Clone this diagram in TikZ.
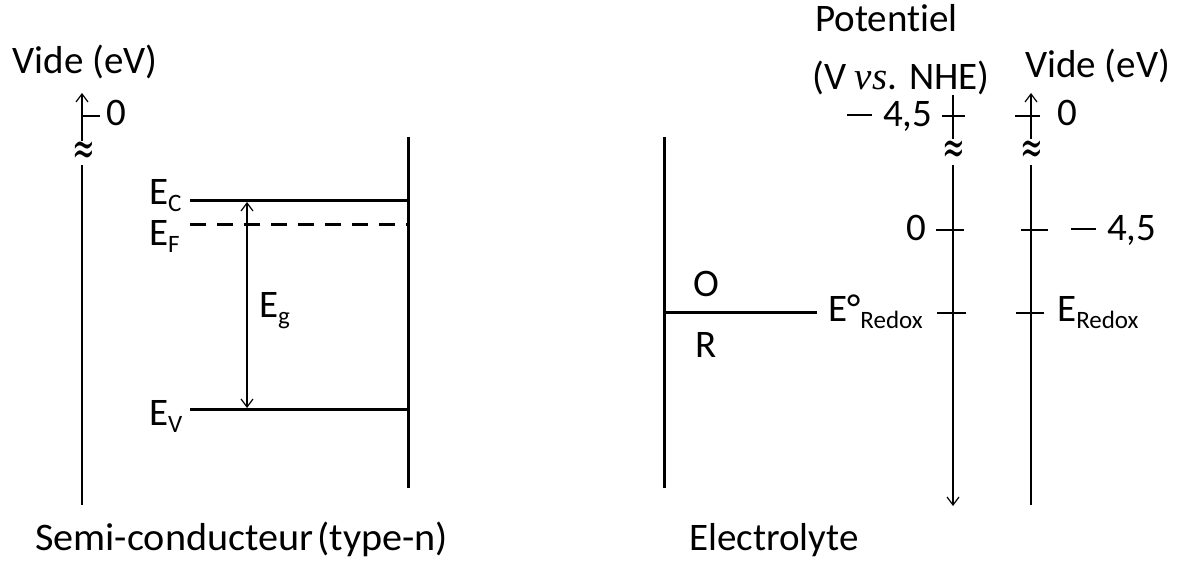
\documentclass[tikz,border=0pt]{standalone}
\usepackage{fontspec}
\setmainfont{Carlito}[Ligatures=NoCommon]
\newfontfamily\tnr{Liberation Serif}
\newfontfamily\djv{DejaVu Serif}
\usetikzlibrary{arrows.meta}
\newcommand\lsub[1]{\raisebox{-7pt}{\fontsize{25}{25}\selectfont #1}}
\newcommand\mns{\rule[11pt]{25pt}{2pt}\hspace*{11pt}}
\begin{document}
\begin{tikzpicture}[x=1pt,y=-1pt,
  axisline/.style={line width=1.2pt},
  bar/.style={line width=3pt},
  tip/.style={-{Straight Barb[length=8pt,width=12pt,line width=1.2pt]}},
  lbl/.style={font=\fontsize{39}{46}\selectfont, inner sep=0pt, text=black},
  brk/.style={inner sep=0pt, font=\djv\fontsize{32}{32}\selectfont}]
\useasboundingbox[fill=white] (0,0) rectangle (1178,561);

% ---------------- left: semiconductor ----------------
\coordinate (la-top) at (82,93);
\coordinate (la-b1) at (82,141);
\coordinate (la-b2) at (82,165);
\coordinate (la-bot) at (82,505);
\coordinate (la-t0) at (82,116);
\coordinate (la-t0e) at (100,116);
\draw[axisline,tip] (la-b1) -- (la-top);
\draw[axisline] (la-b2) -- (la-bot);
\draw[axisline] (la-t0) -- (la-t0e);
\node[brk] (lbrk) at (84,153) {\scalebox{0.85}[1.45]{≈}};
\node[lbl, anchor=base] (lvide) at (85,74) {Vide (eV)};
\node[lbl, anchor=base west] (lzero) at (106,126) {0};

\coordinate (sc-top) at (408,137);
\coordinate (sc-bot) at (408,488);
\draw[bar] (sc-top) -- (sc-bot);
\coordinate (ec-l) at (190,201);
\coordinate (ec-r) at (408,201);
\coordinate (ef-l) at (190,225);
\coordinate (ef-r) at (408,225);
\coordinate (ev-l) at (190,409);
\coordinate (ev-r) at (408,409);
\draw[bar] (ec-l) -- (ec-r);
\draw[bar, dash pattern=on 16pt off 11pt] (ef-l) -- (ef-r);
\draw[bar] (ev-l) -- (ev-r);
\coordinate (eg-t) at (247,202);
\coordinate (eg-b) at (247,408);
\draw[axisline,{Straight Barb[length=8pt,width=12pt,line width=1.2pt]}-{Straight Barb[length=8pt,width=12pt,line width=1.2pt]}] (eg-t) -- (eg-b);

\node[lbl, anchor=base west] (ec) at (149,205) {E\lsub{C}};
\node[lbl, anchor=base west] (ef) at (149,246) {E\lsub{F}};
\node[lbl, anchor=base west] (ev) at (149,425) {E\lsub{V}};
\node[lbl, anchor=base west] (eg) at (259,317) {E\lsub{g}};
\node[lbl, anchor=base west] (sc) at (35,550) {\scalebox{1.03}[1]{Semi-conducteur\hspace{0.1em}(type-n)}};

% ---------------- right: electrolyte ----------------
\coordinate (el-top) at (664,137);
\coordinate (el-bot) at (664,488);
\draw[bar] (el-top) -- (el-bot);
\coordinate (rx-l) at (664,313);
\coordinate (rx-r) at (817,313);
\draw[bar] (rx-l) -- (rx-r);
\node[lbl, anchor=base] (ox) at (706,297) {O};
\node[lbl, anchor=base] (red) at (706,357) {R};
\node[lbl, anchor=base west] (e0) at (828,322) {E°\lsub{Redox}};
\node[lbl, anchor=base] (elec) at (774,550) {Electrolyte};

% axis 1 : potential
\coordinate (a1-top) at (953,95);
\coordinate (a1-b1) at (953,139);
\coordinate (a1-b2) at (953,165);
\coordinate (a1-bot) at (953,506);
\draw[axisline] (a1-top) -- (a1-b1);
\draw[axisline,tip] (a1-b2) -- (a1-bot);
\node[brk] (a1brk) at (954,152) {\scalebox{0.85}[1.45]{≈}};
\draw[axisline] (942,116) coordinate (a1-t1l) -- (965,116) coordinate (a1-t1r);
\draw[axisline] (936,230) coordinate (a1-t2l) -- (964,230) coordinate (a1-t2r);
\draw[axisline] (937,313) coordinate (a1-t3l) -- (966,313) coordinate (a1-t3r);
\node[lbl, anchor=base west] (p45) at (847,127) {\mns4,5};
\node[lbl, anchor=base east] (p0) at (926,241) {0};
\node[lbl, anchor=base west] (pot) at (815,32) {Potentiel};
\node[lbl, anchor=base west] (vnhe) at (812,90) {(V {\tnr\itshape vs}. NHE)};

% axis 2 : vacuum
\coordinate (a2-top) at (1031,93);
\coordinate (a2-b1) at (1031,139);
\coordinate (a2-b2) at (1031,165);
\coordinate (a2-bot) at (1031,505);
\draw[axisline,tip] (a2-b1) -- (a2-top);
\draw[axisline] (a2-b2) -- (a2-bot);
\node[brk] (a2brk) at (1032,152) {\scalebox{0.85}[1.45]{≈}};
\draw[axisline] (1015,116) coordinate (a2-t1l) -- (1040,116) coordinate (a2-t1r);
\draw[axisline] (1021,230) coordinate (a2-t2l) -- (1048,230) coordinate (a2-t2r);
\draw[axisline] (1016,313) coordinate (a2-t3l) -- (1044,313) coordinate (a2-t3r);
\node[lbl, anchor=base west] (v0) at (1057,126) {0};
\node[lbl, anchor=base west] (v45) at (1071,241) {\mns4,5};
\node[lbl, anchor=base west] (vred) at (1057,322) {E\lsub{Redox}};
\node[lbl, anchor=base west] (vvide) at (1025,78) {Vide (eV)};
\end{tikzpicture}
\end{document}
